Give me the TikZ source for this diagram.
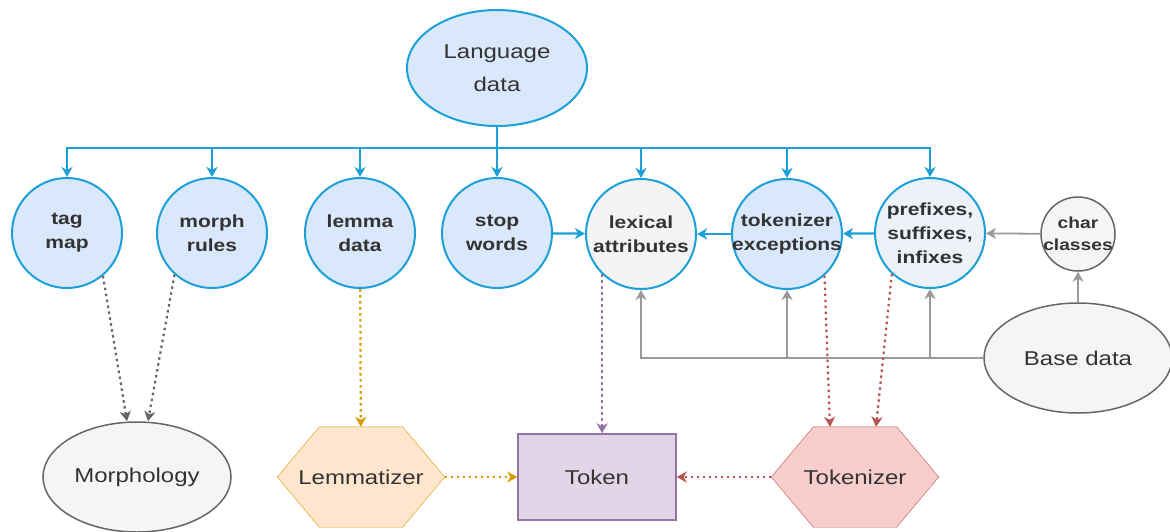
\documentclass[tikz,border=0pt]{standalone}
\usepackage{fontspec}
\setmainfont{Liberation Sans}[FakeStretch=1.2]
\usetikzlibrary{arrows.meta,shapes.geometric,backgrounds}

\definecolor{bluedraw}{HTML}{1DA0D8}
\definecolor{bluefill}{HTML}{DAE8FC}
\definecolor{lexfill}{HTML}{F4F4F5}
\definecolor{affixfill}{HTML}{EDF2F8}
\definecolor{graydraw}{HTML}{666666}
\definecolor{grayfill}{HTML}{F5F5F5}
\definecolor{linegray}{HTML}{9A9A9A}
\definecolor{orangedraw}{HTML}{D79B00}
\definecolor{orangefill}{HTML}{FFE6CC}
\definecolor{purpledraw}{HTML}{9673A6}
\definecolor{purplefill}{HTML}{E1D5E7}
\definecolor{reddraw}{HTML}{B85450}
\definecolor{redfill}{HTML}{F8CECC}
\definecolor{textgray}{HTML}{333333}

\begin{document}
\begin{tikzpicture}[x=1pt, y=-1pt, >={Stealth[length=10pt,width=11pt,inset=3pt]},
    main/.style = {draw=bluedraw, fill=bluefill, circle, line width=2pt, minimum size=110pt, inner sep=-15pt, align=center, text=textgray, font=\bfseries\fontsize{17.5}{24}\selectfont},
    small/.style = {main, draw=graydraw, fill=grayfill, line width=1.5pt, minimum size=74pt, font=\bfseries\fontsize{16}{22}\selectfont},
    big/.style = {draw=bluedraw, fill=bluefill, ellipse, line width=2pt, minimum width=180pt, minimum height=116pt, align=center, text=textgray, font=\fontsize{20}{33}\selectfont},
    ell/.style = {big, draw=graydraw, fill=grayfill, line width=1.5pt, minimum width=188pt, minimum height=110pt},
    hexa/.style = {rectangle, minimum width=167pt, minimum height=100pt, inner sep=0pt, text=textgray, font=\fontsize{20}{24}\selectfont},
    box/.style = {rectangle, draw=purpledraw, fill=purplefill, line width=1.5pt, minimum width=158pt, minimum height=86pt, text=textgray, font=\fontsize{20}{24}\selectfont},
    blueline/.style = {->, draw=bluedraw, line width=2.3pt},
    grayline/.style = {->, draw=linegray, line width=1.8pt},
    dots/.style = {->, line width=2.2pt, dash pattern=on 2.5pt off 3.5pt}]

    \useasboundingbox (0,0) rectangle (1170,531);

    \node[big] (lang) at (497,68) {Language\\data};
    \coordinate (bus) at (0,148);

    \node[main] (tag) at (67,233) {tag\\map};
    \node[main] (rules) at (212,233) {morph\\rules};
    \node[main] (lemmadata) at (360,233) {lemma\\data};
    \node[main] (stop) at (497,233) {stop\\words};
    \node[main, fill=lexfill] (lex) at (641,234) {lexical\\attributes};
    \node[main] (exc) at (787,234) {tokenizer\\exceptions};
    \node[main, fill=affixfill] (affix) at (930,233) {prefixes,\\suffixes,\\infixes};
    \node[small] (char) at (1078,234) {char\\classes};

    \node[ell] (base) at (1078,358) {Base data};

    \node[ell] (morph) at (137,477) {Morphology};
    \node[hexa] (lemmatizer) at (361,477) {Lemmatizer};
    \node[box] (token) at (597,477) {Token};
    \node[hexa] (tokenizer) at (855,477) {Tokenizer};

    % hexagons behind their labels
    \begin{scope}[on background layer, line width=1.5pt]
    \draw[draw=orangedraw, fill=orangefill] (lemmatizer.west) -- ([xshift=42pt]lemmatizer.north west) -- ([xshift=-42pt]lemmatizer.north east) -- (lemmatizer.east) -- ([xshift=-42pt]lemmatizer.south east) -- ([xshift=42pt]lemmatizer.south west) -- cycle;
    \draw[draw=reddraw, fill=redfill] (tokenizer.west) -- ([xshift=42pt]tokenizer.north west) -- ([xshift=-42pt]tokenizer.north east) -- (tokenizer.east) -- ([xshift=-42pt]tokenizer.south east) -- ([xshift=42pt]tokenizer.south west) -- cycle;
    \end{scope}

    % language data tree
    \draw[blueline] (lang) -- (lang |- bus) -| (tag);
    \draw[blueline] (lang) -- (lang |- bus) -| (rules);
    \draw[blueline] (lang) -- (lang |- bus) -| (lemmadata);
    \draw[blueline] (lang) -- (stop);
    \draw[blueline] (lang) -- (lang |- bus) -| (lex);
    \draw[blueline] (lang) -- (lang |- bus) -| (exc);
    \draw[blueline] (lang) -- (lang |- bus) -| (affix);

    \draw[blueline] (stop) -- (lex);
    \draw[blueline] (exc) -- (lex);
    \draw[blueline] (affix) -- (exc);

    % base data
    \draw[grayline] (base) -| (lex);
    \draw[grayline] (base) -| (exc);
    \draw[grayline] (base) -| (affix);
    \draw[grayline] (base) -- (char);
    \draw[grayline] (char) -- (affix);

    % pipeline
    \draw[dots, graydraw] (tag.-50) -- ([xshift=-10pt]morph.north);
    \draw[dots, graydraw] (rules.-132) -- ([xshift=11pt]morph.north);
    \draw[dots, orangedraw] (lemmadata) -- (lemmatizer);
    \draw[dots, orangedraw] (lemmatizer) -- (token);
    \draw[dots, purpledraw] (lex.-134) -- (lex.-134 |- token.north);
    \draw[dots, reddraw] (tokenizer) -- (token);
    \draw[dots, reddraw] (exc.-48) -- ([xshift=-25pt]tokenizer.north);
    \draw[dots, reddraw] (affix.-133) -- ([xshift=21pt]tokenizer.north);

\end{tikzpicture}
\end{document}
